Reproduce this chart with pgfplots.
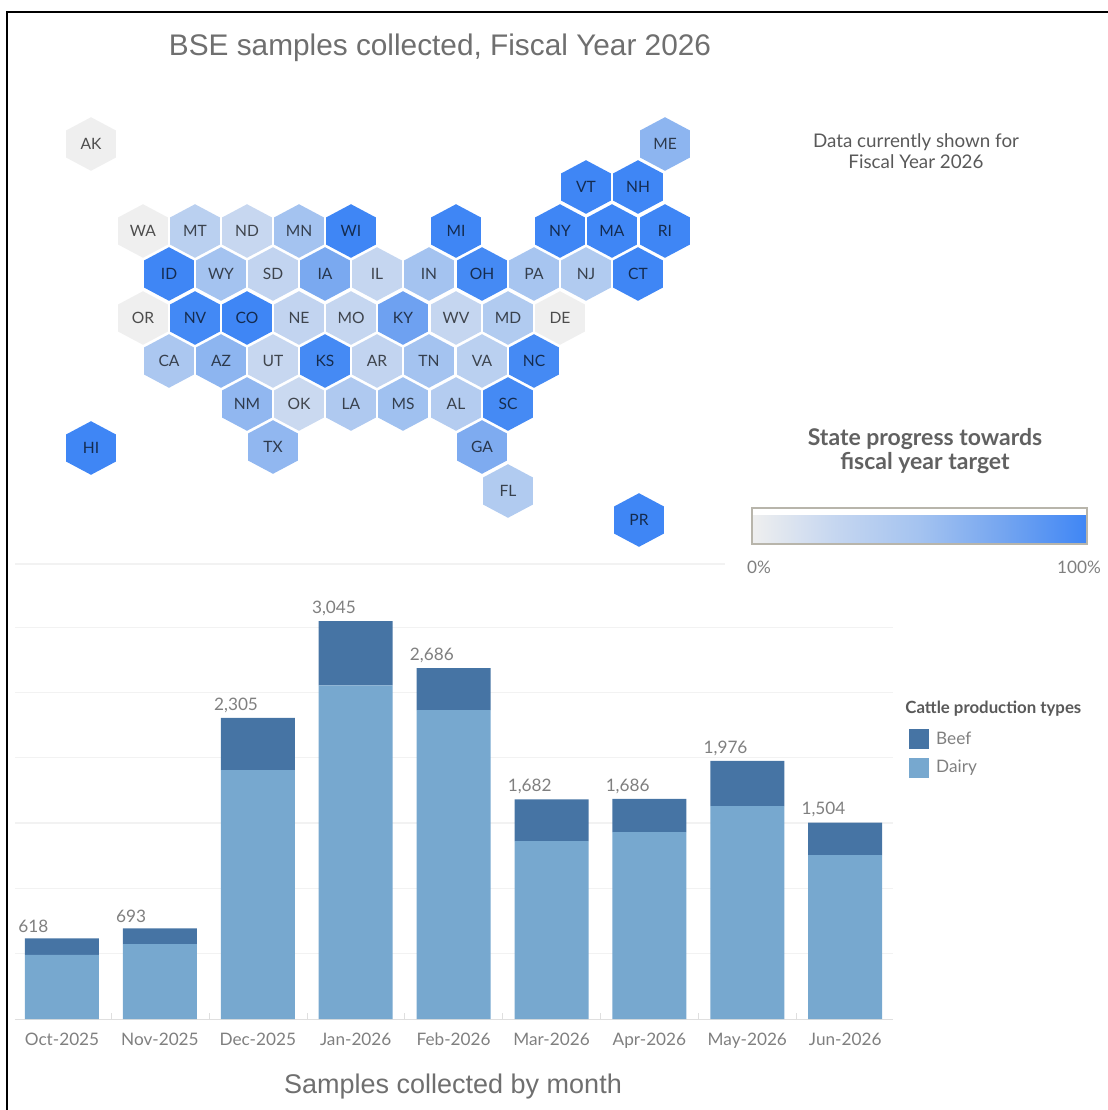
\documentclass[border=0pt]{standalone}
\usepackage{pgfplots}
\usepackage{pgfplotstable}
\usepackage{fontspec}
\pgfplotsset{compat=1.18}
\setmainfont{Lato}
\newfontfamily\arialf{Liberation Sans}
\definecolor{beef}{HTML}{4674A4}
\definecolor{dairy}{HTML}{77A8CF}
\definecolor{tickgrey}{HTML}{7F7F7F}
\definecolor{titlegrey}{HTML}{6F6F6F}
\definecolor{gridgrey}{HTML}{F2F2F2}
\definecolor{barborder}{HTML}{B8B5AB}
\pgfdeclareplotmark{hexa}{%
  \pgfpathmoveto{\pgfqpoint{0pt}{13.4pt}}%
  \pgfpathlineto{\pgfqpoint{12.4pt}{6.8pt}}%
  \pgfpathlineto{\pgfqpoint{12.4pt}{-6.8pt}}%
  \pgfpathlineto{\pgfqpoint{0pt}{-13.4pt}}%
  \pgfpathlineto{\pgfqpoint{-12.4pt}{-6.8pt}}%
  \pgfpathlineto{\pgfqpoint{-12.4pt}{6.8pt}}%
  \pgfpathclose\pgfusepathqfill}
\pgfplotstableread{
st x y v
AK 91 144 0
ME 665 144 62
VT 586 187 100
NH 638 187 100
WA 143 231 0
MT 195 231 33
ND 247 231 24
MN 299 231 50
WI 351 231 100
MI 456 231 100
NY 560 231 100
MA 612 231 100
RI 665 231 100
ID 169 274 100
WY 221 274 50
SD 273 274 27
IA 325 274 72
IL 377 274 25
IN 429 274 50
OH 482 274 97
PA 534 274 48
NJ 586 274 40
CT 638 274 100
OR 143 318 0
NV 195 318 98
CO 247 318 100
NE 299 318 27
MO 351 318 25
KY 403 318 78
WV 456 318 25
MD 508 318 40
DE 560 318 0
CA 169 361 45
AZ 221 361 62
UT 273 361 24
KS 325 361 97
AR 377 361 27
TN 429 361 50
VA 482 361 33
NC 534 361 97
NM 247 404 60
OK 299 404 22
LA 351 404 42
MS 403 404 52
AL 456 404 38
SC 508 404 97
TX 273 447 60
GA 482 447 70
HI 91 448 100
FL 508 491 40
PR 639 520 100
}\statetable
\pgfplotstableread{
x dairy beef
0 490 128
1 574 119
2 1905 400
3 2555 490
4 2364 322
5 1362 320
6 1431 255
7 1630 346
8 1255 249
}\monthtable
\pgfplotstableread{
x y lab
-0.45 618 618
0.55 693 693
1.55 2305 2,305
2.55 3045 3,045
3.55 2686 2,686
4.55 1682 1,682
5.55 1686 1,686
6.55 1976 1,976
7.55 1504 1,504
}\totaltable
\pgfplotsset{
  colormap={progress}{
    rgb255(0)=(239,239,239) rgb255(25)=(197,214,240) rgb255(50)=(164,195,240)
    rgb255(75)=(116,165,240) rgb255(100)=(63,134,245)
  }
}
\begin{document}
\begin{tikzpicture}
\useasboundingbox (0pt,0pt) rectangle (554pt,555pt);
\begin{axis}[
  at={(0pt,0pt)}, anchor=south west,
  scale only axis, width=554pt, height=555pt,
  xmin=0, xmax=1108, ymin=0, ymax=1110, y dir=reverse,
  hide axis, clip=false,
  colormap name=progress, point meta min=0, point meta max=100,
  colorbar horizontal,
  colorbar style={
    at={(752/1108,1-544/1110)}, anchor=south west,
    scale only axis, width=167.5pt, height=18pt,
    xtick=\empty, ytick=\empty,
    axis line style={draw=barborder, line width=1pt},
  },
]
\addplot[black, line width=1pt] coordinates {(7,1110) (7,12) (1108,12)};
\addplot[gridgrey, line width=0.6pt] coordinates {(15,564) (725,564)};
\addplot[
  scatter, only marks, mark=hexa,
  scatter src=explicit,
] table[x=x, y=y, meta=v] {\statetable};
\addplot[
  draw=none, mark=none,
  point meta=explicit symbolic,
  nodes near coords,
  every node near coord/.append style={
    anchor=center, inner sep=0pt, yshift=0pt,
    font=\fontsize{7.8pt}{10pt}\selectfont, text=black, text opacity=0.68},
] table[x=x, y=y, meta=st] {\statetable};
\node[font=\arialf\fontsize{14.9pt}{18pt}\selectfont, text=titlegrey] at (axis cs:440,48) {BSE samples collected, Fiscal Year 2026};
\node[font=\arialf\fontsize{13.5pt}{16pt}\selectfont, text=titlegrey] at (axis cs:453,1087) {Samples collected by month};
\node[font=\fontsize{9.4pt}{10.6pt}\selectfont, text=black!65, align=center] at (axis cs:916,151) {Data currently shown for\\Fiscal Year 2026};
\node[font=\bfseries\fontsize{11.5pt}{12pt}\selectfont, text=black!62, align=center] at (axis cs:925,451) {State progress towards\\fiscal year target};
\node[font=\fontsize{8.6pt}{10pt}\selectfont, text=tickgrey] at (axis cs:759,567) {0\%};
\node[font=\fontsize{8.6pt}{10pt}\selectfont, text=tickgrey] at (axis cs:1079,567) {100\%};
\node[font=\bfseries\fontsize{8.4pt}{10pt}\selectfont, text=black!65, anchor=west, inner sep=0pt] at (axis cs:905,709) {Cattle production types};
\end{axis}
\begin{axis}[
  at={(7.5pt,45.5pt)}, anchor=south west,
  scale only axis, width=439pt, height=209pt,
  ybar stacked, bar width=37pt,
  xmin=-0.48, xmax=8.488, ymin=0, ymax=3200,
  axis x line*=bottom, axis y line*=left,
  y axis line style={draw=none},
  x axis line style={draw=gridgrey!92!black, line width=0.5pt},
  ytick={500,1000,...,3000}, yticklabels=\empty, ymajorgrids,
  major y tick style={draw=none},
  grid style={gridgrey, line width=0.6pt},
  xtick=data,
  xticklabels={Oct-2025,Nov-2025,Dec-2025,Jan-2026,Feb-2026,Mar-2026,Apr-2026,May-2026,Jun-2026},
  major x tick style={draw=none},
  minor xtick={-0.5,0.5,...,8.5},
  minor x tick style={draw=gridgrey!92!black},
  minor tick length=3pt,
  xticklabel style={font=\fontsize{8.6pt}{10pt}\selectfont, text=tickgrey, yshift=-3.5pt},
  clip=false,
  reverse legend,
  legend cell align=left,
  legend style={at={(1.018,0.698)}, anchor=north west, draw=none, fill=none,
    inner sep=0pt, row sep=2.5pt,
    font=\fontsize{8.6pt}{10pt}\selectfont, text=tickgrey},
  legend image code/.code={\fill[#1] (0pt,-5pt) rectangle (10pt,5pt); \path (11.5pt,0pt);},
]
\addplot[fill=dairy, draw=none] table[x=x, y=dairy] {\monthtable};
\addplot[fill=beef, draw=none] table[x=x, y=beef] {\monthtable};
\addlegendentry{Dairy}
\addlegendentry{Beef}
\end{axis}
\begin{axis}[
  at={(7.5pt,45.5pt)}, anchor=south west,
  scale only axis, width=439pt, height=209pt,
  xmin=-0.48, xmax=8.488, ymin=0, ymax=3200,
  hide axis, clip=false,
]
\addplot[draw=none, mark=none,
  point meta=explicit symbolic,
  nodes near coords,
  every node near coord/.append style={anchor=south west, inner sep=0pt, yshift=2.5pt,
    font=\fontsize{8.6pt}{10pt}\selectfont, text=tickgrey},
] table[x=x, y=y, meta=lab] {\totaltable};
\end{axis}
\end{tikzpicture}
\end{document}
